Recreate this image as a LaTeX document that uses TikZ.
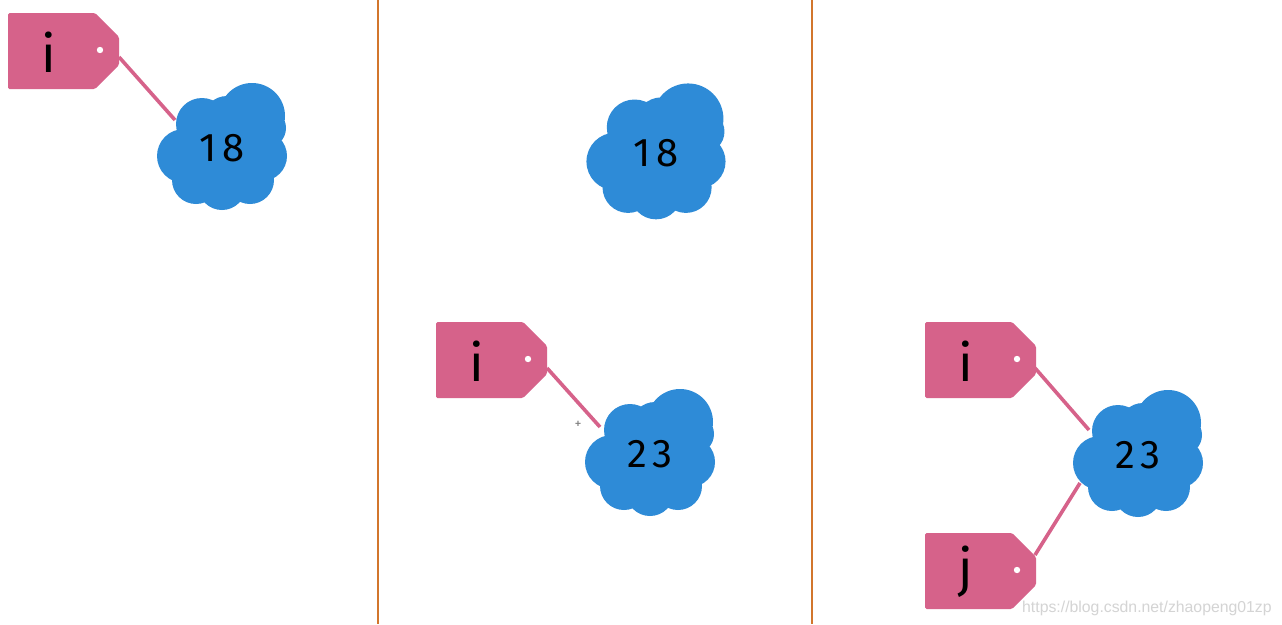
\documentclass[tikz,border=0pt]{standalone}
\usepackage{fontspec}
\setmainfont{Fira Sans}
\newfontfamily\wmfont{Liberation Sans}
\definecolor{tagpink}{HTML}{D6628A}
\definecolor{cloudblue}{HTML}{2E8BD7}
\definecolor{divorange}{HTML}{D2762C}
\definecolor{wmgray}{HTML}{D4D4D4}
\tikzset{
  tagshape/.style={fill=tagpink, rounded corners=1.5pt},
  taglabel/.style={inner sep=0pt, font=\fontsize{52}{52}\selectfont, text=black},
  cloudlabel/.style={inner sep=0pt, font=\fontsize{40}{40}\selectfont, text=black},
  link/.style={draw=tagpink, line width=3.6pt},
  divider/.style={draw=divorange, line width=2pt},
}
% tag: #1 left, #2 top, #3 name, #4 letter
\newcommand\mytag[4]{%
  \fill[tagshape] (#1,#2) -- ++(87,0) -- ++(24,24) -- ++(0,28) -- ++(-24,24) -- ++(-87,0) -- cycle;
  \fill[white] (#1+92,#2+37) circle (3.2pt);
  \node[taglabel] (#3) at (#1+41,#2+39) {#4};
}
% cloud: #1 cx, #2 cy, #3 scale, #4 name, #5 text
\newcommand\mycloud[5]{%
  \begin{scope}[shift={(#1,#2)}, scale=#3]
    \fill[cloudblue] (0,0) circle (44pt) (30,-32) circle (33pt) (-20,-24) circle (26pt)
      (5,-28) circle (24pt) (-38,8) circle (27pt) (-26,32) circle (24pt)
      (0,38) circle (24pt) (28,32) circle (24pt) (40,8) circle (25pt) (44,-20) circle (20pt);
  \end{scope}
  \node[cloudlabel] (#4) at (#1,#2) {#5};
}
\newcommand\spd[2]{#1\hspace{5pt}#2}
\begin{document}
\begin{tikzpicture}[x=1pt,y=-1pt]
\useasboundingbox (0,0) rectangle (1282,624);
\fill[white] (0,0) rectangle (1282,624);
% dividers
\coordinate (d1t) at (378,0); \coordinate (d1b) at (378,624);
\coordinate (d2t) at (812,0); \coordinate (d2b) at (812,624);
\draw[divider] (d1t) -- (d1b);
\draw[divider] (d2t) -- (d2b);
% connector end points
\coordinate (p1) at (119,57);   \coordinate (e1) at (175,120);
\coordinate (p2) at (547,368);  \coordinate (e2) at (600,427);
\coordinate (p3) at (1035,368); \coordinate (e3) at (1089,430);
\coordinate (p4) at (1035,555); \coordinate (e4) at (1080,483);
\draw[link] (p1) -- (e1);
\draw[link] (p2) -- (e2);
\draw[link] (p3) -- (e3);
\draw[link] (p4) -- (e4);
% panel 1
\mytag{8}{13}{tagi1}{i}
\mycloud{222}{148}{1}{c18a}{\spd{1}{8}}
% panel 2
\mycloud{656}{153}{1.07}{c18b}{\spd{1}{8}}
\mytag{436}{322}{tagi2}{i}
\mycloud{650}{454}{1}{c23a}{\spd{2}{3}}
\node[inner sep=0pt, text=gray, font=\fontsize{14}{14}\selectfont] (cursor) at (578,425) {+};
% panel 3
\mytag{925}{322}{tagi3}{i}
\mytag{925}{533}{tagj}{j}
\mycloud{1138}{455}{1}{c23b}{\spd{2}{3}}
\node[anchor=base west, inner sep=0pt, text=wmgray, font=\wmfont\fontsize{15.8}{15.8}\selectfont] (wm) at (1022,612) {https://blog.csdn.net/zhaopeng01zp};
\end{tikzpicture}
\end{document}
